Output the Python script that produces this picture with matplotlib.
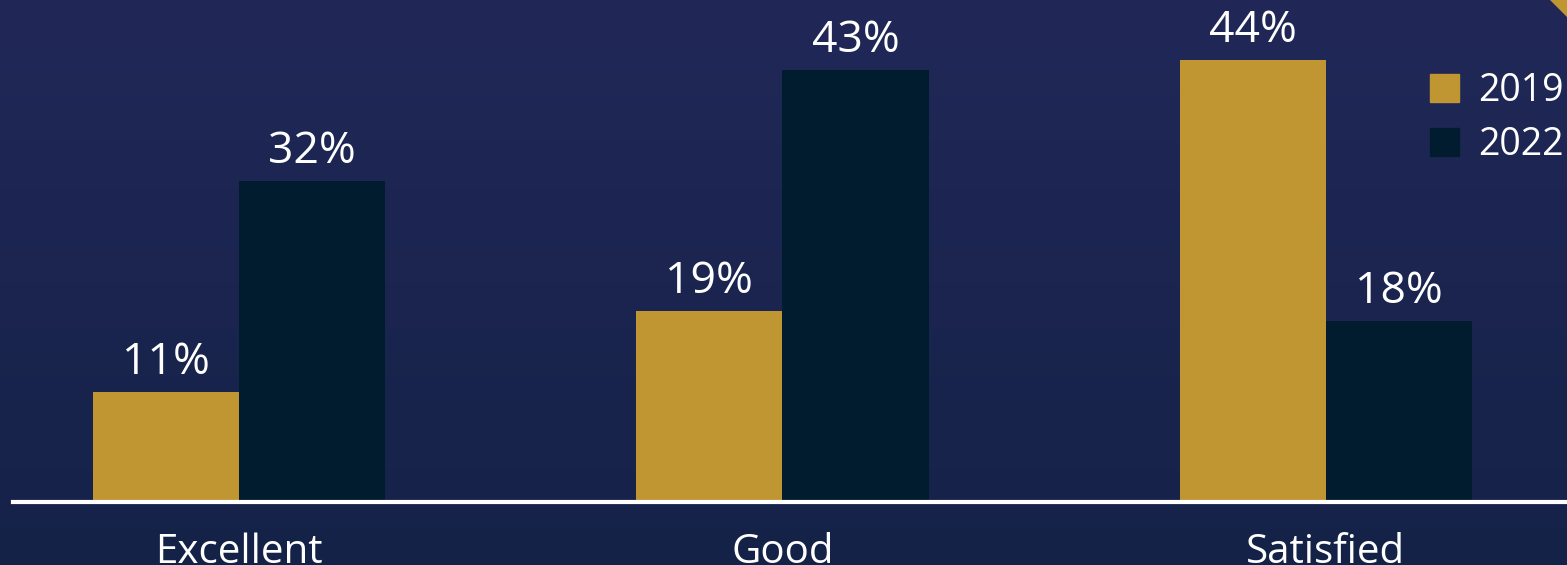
import numpy as np
import matplotlib
matplotlib.use("Agg")
import matplotlib.pyplot as plt
from matplotlib.patches import Patch, Polygon

categories = ["Excellent", "Good", "Satisfied"]
series_names = ["2019", "2022"]
values_2019 = [11, 19, 44]
values_2022 = [32, 43, 18]

GOLD = "#C09632"
DARK = "#011C2F"

plt.rcParams['font.family'] = ['Open Sans', 'DejaVu Sans']

W, H = 1567, 565
fig = plt.figure(figsize=(W / 100, H / 100), dpi=100)

# gradient background
bg = fig.add_axes([0, 0, 1, 1], zorder=0)
top = np.array([33, 40, 88]) / 255
bot = np.array([21, 34, 72]) / 255
t = np.linspace(0, 1, 256)[:, None]
grad = top[None, :] * (1 - t) + bot[None, :] * t
bg.imshow(grad[:, None, :], aspect="auto", extent=[0, 1, 0, 1], origin="upper")
bg.set_axis_off()

# gold corner triangle
fig.patches.append(Polygon([(1550 / W, 1.0), (1.0, 1.0), (1.0, 1 - 17 / H)],
                           closed=True, transform=fig.transFigure,
                           facecolor=GOLD, edgecolor="none", zorder=1))

base = 502
ax = fig.add_axes([13 / W, (H - base) / H, (W - 13) / W, base / H], zorder=2)
ax.patch.set_alpha(0)

x = np.arange(len(categories))
w = 0.269
b1 = ax.bar(x - w / 2, values_2019, width=w, color=GOLD, label=series_names[0])
b2 = ax.bar(x + w / 2, values_2022, width=w, color=DARK, label=series_names[1])

for bars in (b1, b2):
    ax.bar_label(bars, labels=[f"{v}%" for v in bars.datavalues], padding=5,
                 color="white", fontsize=32)

ax.set_xlim(-0.416, 2.444)
ax.set_ylim(0, 50.0)
ax.set_yticks([])
ax.set_xticks(x)
ax.set_xticklabels(categories, color="white", fontsize=29)
ax.tick_params(axis="x", length=0, pad=22)
for s in ["top", "right", "left"]:
    ax.spines[s].set_visible(False)
ax.spines["bottom"].set_color("white")
ax.spines["bottom"].set_linewidth(3)

leg = ax.legend(handles=[Patch(color=GOLD), Patch(color=DARK)], labels=series_names,
                loc="upper left", bbox_to_anchor=(1430 / W, 1 - 72 / H),
                bbox_transform=fig.transFigure, frameon=False, fontsize=27,
                handlelength=0.78, handleheight=0.78, handletextpad=0.5,
                labelspacing=0.42, borderpad=0, borderaxespad=0, labelcolor="white")

fig.savefig("out.png", dpi=100)
